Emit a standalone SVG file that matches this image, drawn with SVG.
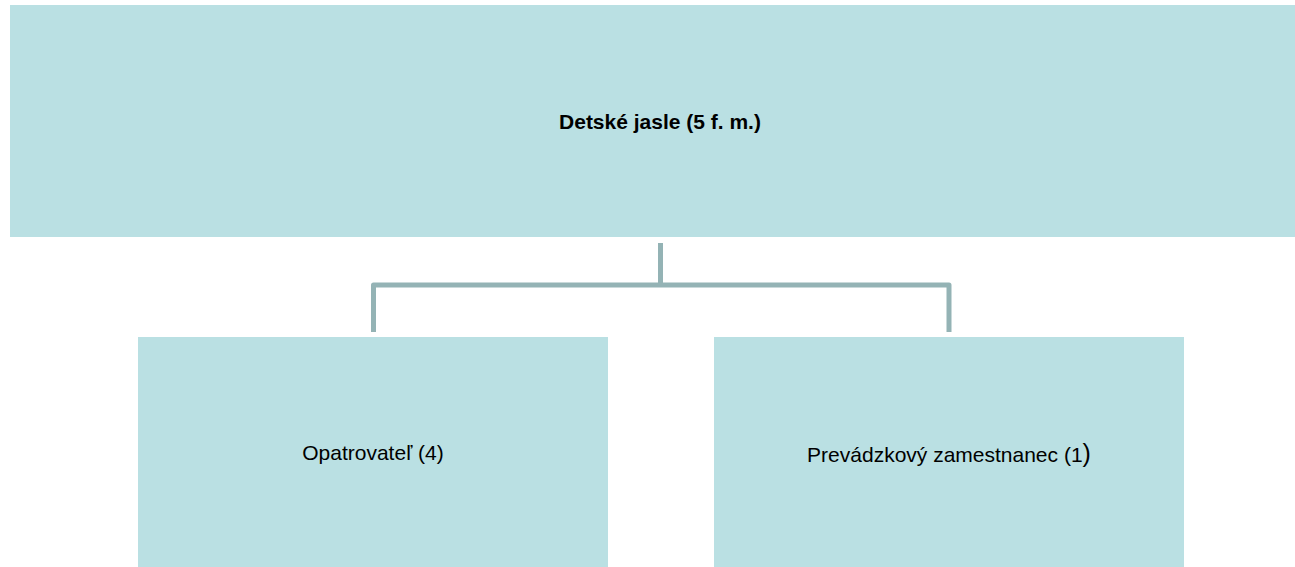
<svg xmlns="http://www.w3.org/2000/svg" width="1295" height="567" viewBox="0 0 1295 567">
<style>
.box{fill:#bae0e3;}
.t{font-family:"Liberation Sans",Arial,sans-serif;fill:#000;text-anchor:middle;}
.b{font-weight:bold;font-size:21px;}
.r{font-size:21px;}
.c{fill:none;stroke:#94b3b5;stroke-width:5;stroke-linejoin:round;}
</style>
<rect width="1295" height="567" fill="#fff"/>
<g id="connectors">
<path class="c" d="M660.5 243 V285 M373.5 332 V285 H949 V332"/>
</g>
<g id="node-root">
<rect class="box" x="10" y="5" width="1300" height="232"/>
<text class="t b" x="660" y="129">Detské jasle (5 f. m.)</text>
</g>
<g id="node-opatrovatel">
<rect class="box" x="138" y="337" width="470" height="240"/>
<text class="t r" x="373" y="460">Opatrovateľ (4)</text>
</g>
<g id="node-prevadzkovy">
<rect class="box" x="714" y="337" width="470" height="240"/>
<text class="t r" x="949" y="462">Prevádzkový zamestnanec (1<tspan font-size="25">)</tspan></text>
</g>
</svg>
